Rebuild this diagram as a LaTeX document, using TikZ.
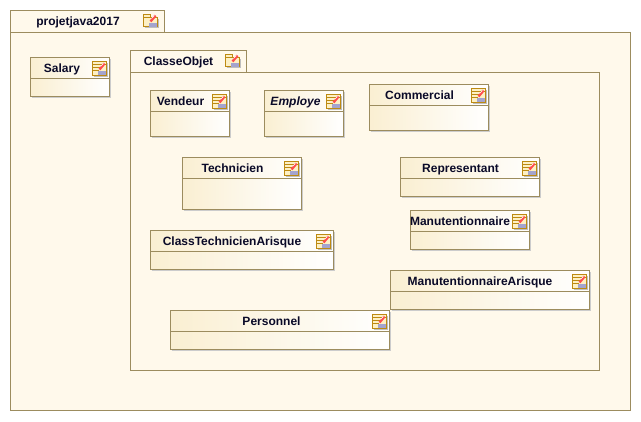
\documentclass[tikz,border=0pt]{standalone}
\usepackage{fontspec}
\setmainfont{Liberation Sans}
\usetikzlibrary{calc}
\definecolor{umlline}{HTML}{9C8C5E}
\definecolor{umlback}{HTML}{FFF9EB}
\definecolor{umltan}{HTML}{FAEFD2}
\definecolor{iconline}{HTML}{BD8A12}
\definecolor{iconfill}{HTML}{FDF0C4}
\definecolor{umltext}{HTML}{0A0A28}
\tikzset{
	umlbox/.style={draw=umlline, line width=0.75pt},
	umllabel/.style={inner sep=0pt, anchor=base, text=umltext, font=\fontsize{9}{11}\selectfont},
	umlshade/.style={left color=umltan, right color=white, draw=none},
	iconbox/.style={draw=iconline, fill=iconfill, line width=0.75pt}
}
% small pen shared by both icons
\def\iconpen(#1,#2){
	\fill[blue!30!gray!55] (#1+5, #2+9) rectangle (#1+13, #2+13);
	\draw[red!70!white, line width=1.8pt] (#1+7, #2+8) -- (#1+12, #2+2);
	\draw[white, line width=0.4pt] (#1+8, #2+5) -- (#1+11, #2+2);
}
% class icon, top left corner
\def\classicon(#1,#2){
	\draw[gray!50, line width=0.75pt] (#1+1, #2+15) -- (#1+15, #2+15) -- (#1+15, #2+1);
	\draw[iconbox] (#1, #2) rectangle (#1+14, #2+14);
	\draw[iconline, line width=0.75pt] (#1, #2+3) -- (#1+14, #2+3);
	\draw[iconline, line width=0.75pt] (#1, #2+6) -- (#1+8, #2+6);
	\draw[iconline, line width=0.75pt] (#1, #2+9) -- (#1+6, #2+9);
	\iconpen(#1,#2)
}
% package icon, top left corner
\def\packageicon(#1,#2){
	\draw[gray!50, line width=0.75pt] (#1+1, #2+13) -- (#1+15, #2+13) -- (#1+15, #2+4);
	\draw[iconbox] (#1, #2+3) -- (#1, #2) -- (#1+7, #2) -- (#1+7, #2+3) -- (#1+14, #2+3) -- (#1+14, #2+12) -- (#1, #2+12) -- cycle;
	\draw[iconline, line width=0.75pt] (#1, #2+3) -- (#1+7, #2+3);
	\iconpen(#1,#2-1)
}
% corners, bottom of the title row, label centre, then the text
\def\classbox(#1)(#2,#3,#4,#5,#6)(#7)#8{
	\draw[gray!40, line width=0.75pt] (#2+1, #5+1) -- (#4+1, #5+1) -- (#4+1, #3+1);
	\shade[umlshade] (#2, #3) rectangle (#4, #5);
	\draw[umlbox] (#2, #3) rectangle (#4, #5);
	\draw[umlbox] (#2, #6) -- (#4, #6);
	\node[umllabel] (#1) at (#7, #3+15) {#8};
	\classicon(#4-17,#3+4)
}
\begin{document}
\begin{tikzpicture}[x=0.75pt, y=-0.75pt]
	\useasboundingbox (-0.5, -0.5) rectangle (640.5, 420.5);
	%%%%% PACKAGES %%%%%
	\draw[umlbox, fill=umlback] (10, 10) rectangle (164, 32);
	\draw[umlbox, fill=umlback] (10, 32) rectangle (630, 410);
	\node[umllabel] (projet) at (77.5, 25) {\textbf{projetjava2017}};
	\packageicon(143,14)

	\draw[umlbox, fill=umlback] (130, 50) rectangle (246, 72);
	\draw[umlbox, fill=umlback] (130, 72) rectangle (599, 370);
	\node[umllabel] (classeobjet) at (178, 65) {\textbf{ClasseObjet}};
	\packageicon(225,54)

	%%%%% CLASSES %%%%%
	\classbox(salary)(30,57,109,96,78)(61.5){\textbf{Salary}}
	\classbox(vendeur)(150,90,229,136,111)(180){\textbf{Vendeur}}
	\classbox(employe)(264,90,343,136,111)(295){\textbf{\itshape Employe}}
	\classbox(commercial)(369,84,488,130,105)(419){\textbf{Commercial}}
	\classbox(technicien)(182,157,301,209,178)(232){\textbf{Technicien}}
	\classbox(representant)(400,157,539,196,178)(460){\textbf{Representant}}
	\classbox(manut)(410,210,529,249,231)(459.5){\textbf{Manutentionnaire}}
	\classbox(classtech)(150,230,333,269,251)(231.5){\textbf{ClassTechnicienArisque}}
	\classbox(manutrisque)(390,270,589,309,291)(479.5){\textbf{ManutentionnaireArisque}}
	\classbox(personnel)(170,310,389,349,331)(271){\textbf{Personnel}}
\end{tikzpicture}
\end{document}
